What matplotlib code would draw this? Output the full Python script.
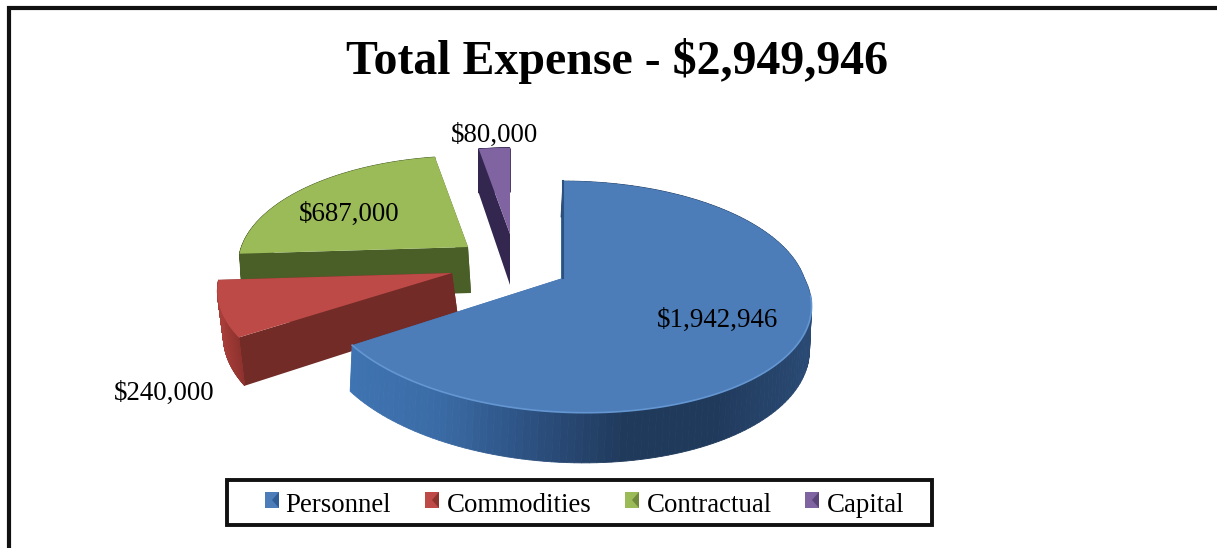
import matplotlib
matplotlib.use('Agg')
import matplotlib.pyplot as plt
import numpy as np
from matplotlib.colors import LinearSegmentedColormap
from matplotlib.patches import Polygon, Rectangle

plt.rcParams['font.family'] = ['Liberation Serif', 'DejaVu Serif']

title = 'Total Expense - $2,949,946'
categories = ['Personnel', 'Commodities', 'Contractual', 'Capital']
expenses = [1942946, 240000, 687000, 80000]
value_labels = ['$1,942,946', '$240,000', '$687,000', '$80,000']

top_colors = ['#4C7DB9', '#BD4A46', '#9BBB59', '#8064A2']
wall_colors = ['#3A6BA5', '#722B27', '#4A5F27', '#33264F']
arc_colors = [['#3F74B2', '#3A6BA5', '#2C5080', '#203A5C', '#203A5C', '#2A4A74'],
              ['#A83E3A', '#8E322E'], ['#4A5F27', '#4A5F27'], ['#33264F', '#33264F']]
key_dark = ['#2F5C94', '#8E322E', '#6F8A3A', '#5A4478']

# where each exploded slice ended up on the page (pixels)
apex_x = [563, 452, 468, 510]
apex_y = [278, 273, 247, 234]
slice_scale = [0.99, 0.95, 0.93, 0.88]
slice_shear = [0.17, 0.0, 0.0, 0.0]
wall_depth = [42, 44, 46, 51]
wall_shift = [-2, 6, 3, 0]
label_pos = [(718, 320), (164, 393), (349, 214), (494, 135)]
key_left = [265, 425, 625, 805]
text_left = [285, 447, 647, 827]

RX, RY, PERSP = 243.7, 113.9, 0.163


def project(angle, i):
    # angle is clockwise from 12 o'clock, far side shrinks
    s = np.cos(angle)
    c = np.sin(angle)
    den = 1 + PERSP * s
    dy = -slice_scale[i] * RY * s / den
    x = apex_x[i] + slice_scale[i] * RX * c / den + slice_shear[i] * np.clip(dy, 0, None)
    return x, apex_y[i] + dy, wall_depth[i] / den


def draw_slice(ax, i, a0, a1, zorder):
    angles = np.linspace(a0, a1, 160)
    x, y, d = project(angles, i)
    cmap = LinearSegmentedColormap.from_list('side', arc_colors[i])
    t = (x - x.min()) / max(x.max() - x.min(), 1)

    # the two flat cut walls
    ax0, ay0 = apex_x[i], apex_y[i]
    base = wall_depth[i]
    for j in (0, -1):
        pts = [(ax0, ay0), (x[j], y[j]),
               (x[j] + wall_shift[i], y[j] + d[j]),
               (ax0 + wall_shift[i], ay0 + base)]
        ax.add_patch(Polygon(pts, facecolor=wall_colors[i], edgecolor='none', zorder=zorder))

    # outer wall, one thin strip per step
    for k in range(len(angles) - 1):
        pts = [(x[k], y[k]), (x[k + 1], y[k + 1]),
               (x[k + 1] + wall_shift[i], y[k + 1] + d[k + 1]),
               (x[k] + wall_shift[i], y[k] + d[k])]
        col = cmap(t[k])
        ax.add_patch(Polygon(pts, facecolor=col, edgecolor=col, lw=0.6, zorder=zorder))

    # top face
    face = np.column_stack([np.r_[ax0, x], np.r_[ay0, y]])
    ax.add_patch(Polygon(face, facecolor=top_colors[i], edgecolor='none', zorder=zorder + 0.1))


def main():
    fig = plt.figure(figsize=(12.17, 5.48), dpi=100)
    ax = fig.add_axes([0, 0, 1, 1])
    ax.set_xlim(0, 1217)
    ax.set_ylim(548, 0)
    ax.axis('off')

    # frame, only top and left are on the page
    ax.plot([9, 9, 1217], [548, 8, 8], color='#111111', lw=3.0, solid_joinstyle='miter')

    ax.text(617, 61, title, ha='center', va='center', fontsize=34.5, fontweight='bold', color='black')

    shares = np.array(expenses) / sum(expenses)
    edges = np.r_[0, np.cumsum(shares)] * 2 * np.pi

    # back to front
    for order, i in enumerate([2, 3, 1, 0]):
        draw_slice(ax, i, edges[i], edges[i + 1], 2 + order)

    # light rim on the front of the big slice
    rim = np.linspace(np.pi * 0.55, edges[1], 120)
    rx, ry, _ = project(rim, 0)
    ax.plot(rx, ry, color='#6496D2', lw=1.2, zorder=7)
    # dark cut edge at 12 o'clock
    tx, ty, _ = project(0.0, 0)
    ax.plot([tx, apex_x[0]], [ty, apex_y[0]], color='#2C5080', lw=1.5, zorder=7)

    for lab, (lx, ly) in zip(value_labels, label_pos):
        ax.text(lx, ly, lab, ha='center', va='center', fontsize=19.4, color='black', zorder=10)

    # legend box
    ax.add_patch(Rectangle((227, 480), 705, 45, facecolor='white', edgecolor='#111111', lw=2.8, zorder=8))
    for i, cat in enumerate(categories):
        kx = key_left[i]
        ax.add_patch(Rectangle((kx, 492), 14, 16, facecolor=top_colors[i], edgecolor='none', zorder=9))
        ax.add_patch(Polygon([(kx + 14, 492), (kx + 7, 500), (kx + 14, 508)], facecolor=key_dark[i],
                             edgecolor='none', zorder=9))
        ax.text(text_left[i], 505, cat, ha='left', va='center', fontsize=19.4, color='black', zorder=10)

    fig.savefig('out.png', dpi=100, facecolor='white')


if __name__ == '__main__':
    main()
